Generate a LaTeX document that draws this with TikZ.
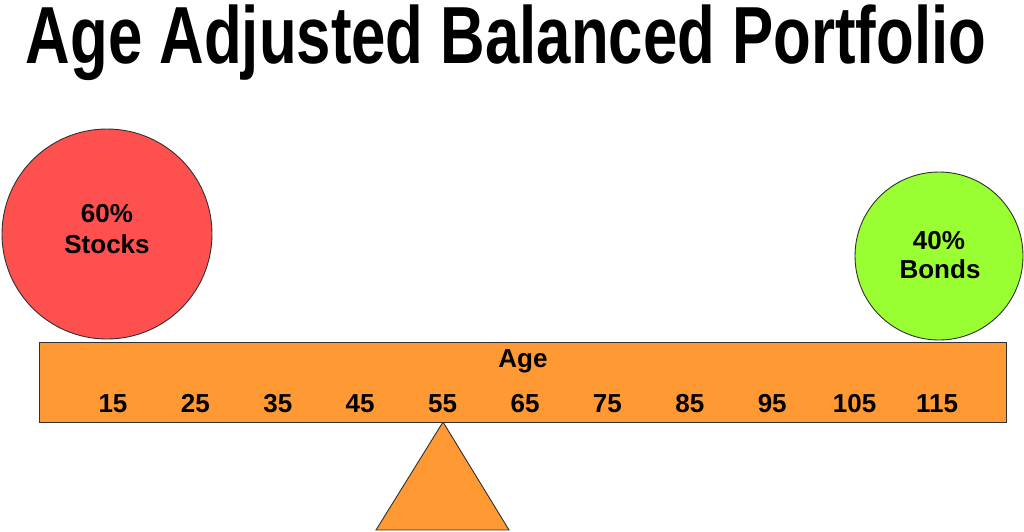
\documentclass[tikz,border=0pt]{standalone}
\usepackage{fontspec}
\setmainfont{Liberation Sans}
\usepackage{graphicx}
\definecolor{stockred}{HTML}{FF5050}
\definecolor{bondgreen}{HTML}{99FF33}
\definecolor{beamorange}{HTML}{FF9933}
\definecolor{edge}{HTML}{303030}
\begin{document}
\begin{tikzpicture}[x=1pt,y=-1pt,
  shapeline/.style={draw=edge,line width=0.9pt},
  lbl/.style={anchor=base,font=\bfseries\fontsize{26}{30}\selectfont,inner sep=0pt},
  ball/.style={shapeline,circle,inner sep=0pt}]
\useasboundingbox (0,0) rectangle (1024,531);
% title
\node[anchor=base,inner sep=0pt,font=\bfseries\fontsize{81}{88}\selectfont] (title) at (506,63)
  {\scalebox{0.762}[1]{Age Adjusted Balanced Portfolio}};
% balls
\node[ball,fill=stockred,minimum size=210pt] (stocks) at (107,234) {};
\node[ball,fill=bondgreen,minimum size=168pt] (bonds) at (939,256) {};
\node[lbl] (sp) at (107,222) {60\%};
\node[lbl] (st) at (107,253) {Stocks};
\node[lbl] (bp) at (939,249) {40\%};
\node[lbl] (bt) at (940,278) {Bonds};
% fulcrum
\coordinate (apex) at (443,422);
\coordinate (bl) at (376,530);
\coordinate (br) at (509,530);
\draw[shapeline,fill=beamorange] (apex) -- (bl) -- (br) -- cycle;
% beam
\node[shapeline,fill=beamorange,anchor=north west,minimum width=967pt,minimum height=80pt,inner sep=0pt] (beam) at (39,342) {};
\node[lbl] (age) at (523,367) {Age};
\foreach \a [count=\i from 0] in {15,25,35,45,55,65,75,85,95,105,115}{
  \node[lbl] (n\a) at ({113+82.4*\i},412) {\a};
}
\end{tikzpicture}
\end{document}
